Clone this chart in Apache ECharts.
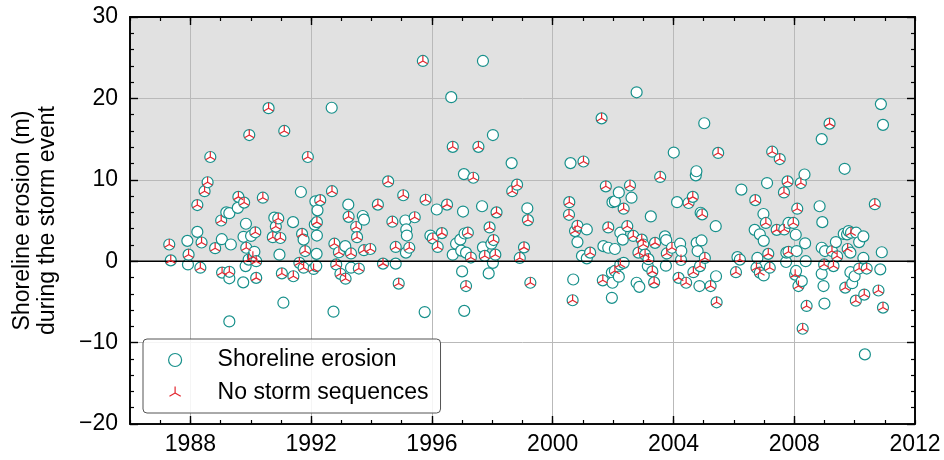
<!DOCTYPE html>
<html>
<head>
<meta charset="utf-8">
<script src="https://cdn.jsdelivr.net/npm/echarts@6/dist/echarts.min.js"></script>
<style>
html,body{margin:0;padding:0;background:#fff;}
#chart{width:944px;height:460px;}
</style>
</head>
<body>
<div id="chart"></div>
<script>
// Storm events where a storm sequence occurred (circle only): [decimal year, erosion (m)]
const stormSequenceEvents = [
[1987.90,2.5],[1987.92,-0.4],[1988.23,3.6],[1989.04,2.7],[1989.19,6.0],[1989.29,5.9],[1989.29,-2.1],[1989.34,2.05],[1989.29,-7.4],[1989.57,6.55],
[1989.75,-2.6],[1989.84,4.6],[1989.76,3.0],[1989.83,-0.6],[1990.01,3.1],[1990.12,1.15],[1990.78,5.35],[1990.95,0.8],[1991.08,-5.1],[1991.40,4.8],
[1991.66,8.5],[1991.75,2.65],[1992.14,7.35],[1992.21,6.25],[1992.12,4.5],[1992.19,3.15],[1992.18,0.9],[1992.17,-0.6],[1992.68,18.85],[1993.13,1.85],
[1992.74,-6.2],[1993.23,6.95],[1993.32,-0.8],[1993.71,5.55],[1993.75,5.1],[1994.80,-0.3],[1995.12,5.0],[1995.15,3.9],[1995.17,3.15],[1995.14,1.05],
[1995.76,-6.25],[1995.95,3.15],[1996.16,6.35],[1996.64,20.15],[1996.69,0.8],[1996.80,2.15],[1996.94,2.65],[1996.97,1.3],[1997.00,-1.25],[1997.06,10.7],
[1997.03,6.1],[1997.08,3.4],[1997.13,1.05],[1997.07,-6.1],[1997.66,6.75],[1997.69,24.6],[1997.69,1.7],[1997.88,-1.5],[1997.97,2.15],[1998.02,15.5],
[1998.02,-0.2],[1998.64,12.05],[1999.16,6.5],[2000.59,12.05],[2000.68,-2.25],[2000.82,2.35],[2000.97,0.65],[2001.13,3.9],[2001.13,0.35],[2001.68,1.85],
[2001.84,1.65],[2001.96,-4.5],[2001.96,-1.4],[2001.98,7.25],[2002.06,7.35],[2002.06,1.5],[2001.98,-2.65],[2002.19,8.45],[2002.19,-1.9],[2002.24,3.5],
[2002.32,2.65],[2002.35,-0.2],[2002.61,7.8],[2002.78,-2.65],[2002.78,20.75],[2002.87,-3.15],[2003.15,-0.6],[2003.25,5.5],[2003.72,3.05],[2003.76,2.6],
[2003.75,-0.55],[2004.01,13.35],[2004.12,7.25],[2004.22,2.15],[2004.26,1.25],[2004.74,10.55],[2004.76,11.05],[2004.77,2.25],[2004.80,1.25],[2004.86,-3.05],
[2004.90,5.95],[2004.93,2.55],[2005.02,16.95],[2005.40,4.3],[2005.41,-1.85],[2006.12,0.5],[2006.25,8.8],[2006.69,3.85],[2006.78,0.4],[2006.86,3.3],
[2006.98,5.8],[2006.99,2.5],[2006.99,-1.75],[2007.10,9.6],[2007.74,1.05],[2007.73,-0.1],[2007.81,4.7],[2008.05,3.25],[2008.08,1.25],[2008.06,-1.2],
[2008.25,-2.45],[2008.34,10.65],[2008.36,2.2],[2008.38,0.0],[2008.84,6.75],[2008.91,15.0],[2008.91,1.65],[2008.93,4.8],[2008.91,-1.55],[2008.97,-3.05],
[2009.00,-5.2],[2009.02,1.25],[2009.38,2.35],[2009.64,3.35],[2009.67,11.35],[2009.75,3.3],[2009.80,3.7],[2009.86,1.05],[2009.86,-1.35],[2009.92,-2.7],
[2010.00,-1.85],[2010.05,3.5],[2010.15,2.35],[2010.29,3.05],[2010.29,0.4],[2010.34,-11.45],[2010.85,-1.0],[2010.87,19.3],[2010.90,1.1],[2010.94,16.75]
];

// Storm events with no storm sequence (circle + red tri marker): [decimal year, erosion (m)]
const noStormSequenceEvents = [
[1987.30,2.05],[1987.35,0.1],[1987.94,0.8],[1988.37,2.3],[1988.33,-0.8],[1988.23,6.9],[1988.47,8.6],[1988.57,9.7],[1988.66,12.8],[1988.82,1.6],
[1989.02,5.0],[1989.05,-1.4],[1989.29,-1.3],[1989.59,7.9],[1989.78,7.2],[1989.85,1.65],[1989.95,15.5],[1990.15,3.55],[1990.07,0.55],[1990.18,0.0],
[1989.93,0.2],[1990.18,-2.05],[1990.40,7.8],[1990.59,18.8],[1990.91,5.25],[1990.83,4.25],[1990.73,2.95],[1990.98,2.85],[1991.03,-1.5],[1991.11,16.0],
[1991.41,-1.85],[1991.70,3.35],[1991.61,-0.2],[1991.80,1.25],[1991.75,-0.8],[1991.89,12.8],[1992.30,7.5],[1992.19,4.8],[1992.08,-0.95],[1992.69,8.6],
[1992.77,2.15],[1992.92,1.1],[1992.83,-0.4],[1992.97,-1.55],[1993.14,-2.15],[1993.24,5.45],[1993.32,0.95],[1993.49,4.2],[1993.52,2.95],[1993.58,-0.9],
[1993.75,1.35],[1993.96,1.5],[1994.21,6.95],[1994.38,-0.3],[1994.55,9.8],[1994.69,4.85],[1994.80,1.75],[1994.90,-2.75],[1995.05,8.1],[1995.25,1.65],
[1995.43,5.4],[1995.70,24.6],[1995.79,7.55],[1996.03,2.8],[1996.19,1.75],[1996.33,3.45],[1996.50,6.95],[1996.69,14.05],[1997.19,3.5],[1997.13,-3.05],
[1997.29,0.45],[1997.37,10.25],[1997.54,14.05],[1997.75,0.65],[1997.91,4.15],[1998.04,2.6],[1998.10,0.8],[1998.14,6.0],[1998.66,8.6],[1998.82,9.4],
[1998.91,0.4],[1999.05,1.7],[1999.18,5.05],[1999.26,-2.65],[2000.54,5.7],[2000.55,7.25],[2000.66,-4.8],[2000.74,3.7],[2000.82,4.35],[2001.02,12.25],
[2001.24,1.05],[2001.62,17.55],[2001.66,-2.35],[2001.76,9.2],[2001.84,4.15],[2002.06,-1.2],[2002.24,-0.4],[2002.35,6.45],[2002.47,4.3],[2002.56,9.3],
[2002.67,3.1],[2002.84,1.05],[2002.95,2.65],[2003.00,2.05],[2003.06,0.8],[2003.17,0.25],[2003.30,-1.25],[2003.36,-2.6],[2003.39,2.25],[2003.56,10.35],
[2003.78,0.95],[2003.95,1.65],[2004.17,-2.05],[2004.25,0.15],[2004.42,-2.65],[2004.50,7.15],[2004.64,7.9],[2004.66,-1.35],[2004.88,-0.6],[2004.95,5.75],
[2005.04,0.4],[2005.23,-3.05],[2005.43,-5.05],[2005.48,13.3],[2006.07,-1.35],[2006.20,0.2],[2006.71,7.5],[2006.75,-0.8],[2006.86,-1.4],[2007.06,4.7],
[2007.14,0.9],[2007.19,-0.8],[2007.27,13.45],[2007.42,3.85],[2007.52,12.55],[2007.67,3.9],[2007.66,8.45],[2007.78,9.8],[2007.81,1.15],[2007.97,4.7],
[2008.03,-1.65],[2008.10,6.45],[2008.14,-3.05],[2008.22,9.6],[2008.28,-8.3],[2008.41,-5.5],[2008.99,-0.4],[2009.17,16.9],[2009.25,1.25],[2009.30,-0.6],
[2009.42,0.6],[2009.69,-3.25],[2009.77,1.5],[2009.88,3.5],[2010.04,-4.85],[2010.15,-0.9],[2010.32,-4.1],[2010.40,-0.9],[2010.67,7.0],[2010.79,-3.6],
[2010.94,-5.7]
];

const xRange = [1986, 2012];
const yRange = [-20, 30];
const majorYears = [1988, 1992, 1996, 2000, 2004, 2008];
const yearLabels = [1988, 1992, 1996, 2000, 2004, 2008, 2012];
const seriesNames = ['Shoreline erosion', 'No storm sequences'];
const yTitle = 'Shoreline erosion (m)\nduring the storm event';

const FONT = 'Liberation Sans, Arial, Helvetica, sans-serif';
const TEAL = '#17908b';
const RED = '#e3262e';
const GRID_COLOR = '#b9b9b9';
const TRI = 'path://M-10,-10M10,10M0,0L0,-10M0,0L8.66,5M0,0L-8.66,5';

const allEvents = stormSequenceEvents.concat(noStormSequenceEvents).sort((a, b) => a[0] - b[0]);

const chart = echarts.init(document.getElementById('chart'), null, {renderer: 'canvas'});

function hiddenLine() { return {show: false, onZero: false}; }
function xBase(position, z, zlevel) {
  return {type: 'value', min: xRange[0], max: xRange[1], position: position, z: z, zlevel: zlevel,
    axisLine: hiddenLine(), axisTick: {show: false}, axisLabel: {show: false}, splitLine: {show: false}};
}
function yBase(position, z, zlevel) {
  return {type: 'value', min: yRange[0], max: yRange[1], interval: 10, position: position, z: z, zlevel: zlevel,
    axisLine: hiddenLine(), axisTick: {show: false}, axisLabel: {show: false}, splitLine: {show: false}, minorTick: {show: false}};
}
function frameLine() { return {show: true, onZero: false, lineStyle: {color: '#000', width: 1.6}}; }
function minorTickX() { return {show: true, inside: true, length: 4, lineStyle: {color: '#000', width: 1.2}}; }
function majorTickX() { return {show: true, inside: true, length: 8, customValues: majorYears, lineStyle: {color: '#000', width: 1.4}}; }

const xAxes = [];
// 0: bottom frame + yearly minor ticks
xAxes.push(Object.assign(xBase('bottom', 5, 1), {interval: 1, axisLine: frameLine(), axisTick: minorTickX()}));
// 1: bottom major ticks + year labels
xAxes.push(Object.assign(xBase('bottom', 5, 1), {
  axisTick: majorTickX(),
  axisLabel: {show: true, customValues: yearLabels, margin: 9, color: '#000', fontSize: 23, fontFamily: FONT,
    formatter: v => String(v)}
}));
// 2: vertical grid lines (under the markers)
xAxes.push(Object.assign(xBase('bottom', 0, 0), {
  axisTick: {show: false, customValues: majorYears},
  splitLine: {show: true, lineStyle: {color: GRID_COLOR, width: 1}}
}));
// 3: top frame + yearly minor ticks
xAxes.push(Object.assign(xBase('top', 5, 1), {interval: 1, axisLine: frameLine(), axisTick: minorTickX()}));
// 4: top major ticks
xAxes.push(Object.assign(xBase('top', 5, 1), {axisLine: frameLine(), axisTick: majorTickX()}));

function yTick() { return {show: true, inside: true, length: 8, lineStyle: {color: '#000', width: 1.4}}; }
function yMinor() { return {show: true, splitNumber: 5, length: 4, lineStyle: {color: '#000', width: 1.2}}; }
const yAxes = [];
yAxes.push(Object.assign(yBase('left', 5, 1), {
  axisLine: frameLine(), axisTick: yTick(), minorTick: yMinor(),
  axisLabel: {show: true, margin: 12, color: '#000', fontSize: 23, fontFamily: FONT,
    formatter: v => (v < 0 ? '\u2212' + Math.abs(v) : String(v))},
  name: yTitle, nameLocation: 'middle', nameGap: 70,
  nameTextStyle: {color: '#000', fontSize: 23, fontFamily: FONT, lineHeight: 25}
}));
yAxes.push(Object.assign(yBase('right', 5, 1), {axisLine: frameLine(), axisTick: yTick(), minorTick: yMinor()}));
yAxes.push(Object.assign(yBase('left', 0, 0), {splitLine: {show: true, lineStyle: {color: GRID_COLOR, width: 1}}}));

const option = {
  animation: false,
  backgroundColor: '#fff',
  grid: {left: 130, right: 29, top: 17, bottom: 36, containLabel: false, zlevel: 1, z: 10,
    show: true, backgroundColor: 'transparent', borderColor: '#000', borderWidth: 1.6},
  xAxis: xAxes,
  yAxis: yAxes,
  legend: {
    orient: 'vertical',
    left: 143, top: 339,
    padding: [9, 12, 8, 25],
    itemWidth: 13, itemHeight: 13, itemGap: 9,
    backgroundColor: 'rgba(255,255,255,0.85)',
    borderColor: '#555', borderWidth: 1, borderRadius: 4,
    formatter: name => '{g|}' + name,
    textStyle: {color: '#000', fontSize: 23, fontFamily: FONT, lineHeight: 24,
      rich: {g: {width: 31, fontSize: 23, lineHeight: 24}}},
    itemStyle: {borderWidth: 1.2},
    data: seriesNames,
    selectedMode: false
  },
  series: [
    {
      type: 'custom', name: 'positive-zone', z: -1, silent: true,
      xAxisIndex: 0, yAxisIndex: 0,
      data: [[xRange[0], 0, xRange[1], yRange[1]]],
      renderItem: function (params, api) {
        const p0 = api.coord([api.value(0), api.value(3)]);
        const p1 = api.coord([api.value(2), api.value(1)]);
        return {type: 'rect', shape: {x: p0[0], y: p0[1] + 1, width: p1[0] - p0[0], height: p1[1] - p0[1] - 1},
          style: {fill: '#e1e1e1'}};
      }
    },
    {
      type: 'scatter', name: seriesNames[0], xAxisIndex: 0, yAxisIndex: 0, z: 2,
      symbol: 'circle', symbolSize: 11,
      itemStyle: {color: '#fff', borderColor: TEAL, borderWidth: 1.2, opacity: 1},
      data: allEvents
    },
    {
      type: 'line', name: 'zero', xAxisIndex: 0, yAxisIndex: 0, z: 3, silent: true,
      symbol: 'none', lineStyle: {color: '#000', width: 1.6},
      data: [[xRange[0], 0], [xRange[1], 0]]
    },
    {
      type: 'scatter', name: seriesNames[1], xAxisIndex: 0, yAxisIndex: 0, z: 4,
      symbol: TRI, symbolSize: 11,
      itemStyle: {color: 'rgba(0,0,0,0)', borderColor: RED, borderWidth: 1.2, opacity: 1},
      data: noStormSequenceEvents
    }
  ]
};
chart.setOption(option);
</script>
</body>
</html>
